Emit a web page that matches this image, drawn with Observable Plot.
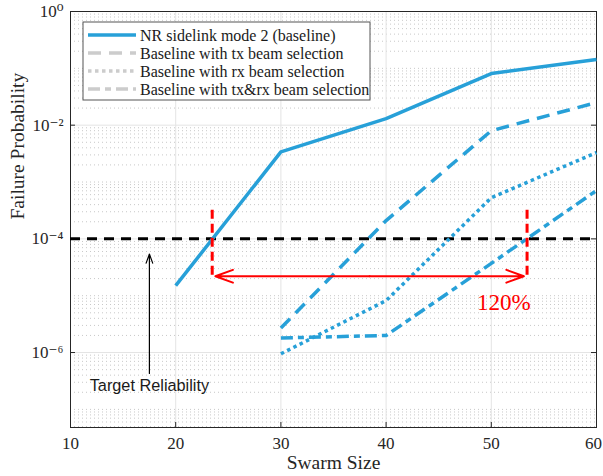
<!DOCTYPE html>
<html><head><meta charset="utf-8">
<script src="https://cdn.jsdelivr.net/npm/d3@7"></script>
<script src="https://cdn.jsdelivr.net/npm/@observablehq/plot@0.6"></script>
<style>
body{margin:0;background:#fff}
#chart{width:603px;height:476px}
</style>
</head><body><div id="chart"></div>
<script>
// ---- data ----
const xBaseline = [20, 30, 40, 50, 60];
const nrBaseline = [1.5e-5, 3.4e-3, 1.3e-2, 8.1e-2, 1.43e-1];
const xBeam = [30, 40, 50, 60];
const txSel = [2.7e-6, 2.1e-4, 8.0e-3, 2.5e-2];
const rxSel = [9.5e-7, 8.2e-6, 5.3e-4, 3.3e-3];
const txrxSel = [1.8e-6, 2.0e-6, 3.7e-5, 7.1e-4];
const seriesNames = ["NR sidelink mode 2 (baseline)", "Baseline with tx beam selection", "Baseline with rx beam selection", "Baseline with tx&rx beam selection"];
const targetReliability = 1e-4;
const gainStart = 23.47, gainEnd = 53.4;    // swarm sizes where target is met
const gainLabel = "120%";
const gainTop = 3.2e-4, gainBottom = 2.2e-5;
const xTicks = [10, 20, 30, 40, 50, 60];
const yTicks = [1, 1e-2, 1e-4, 1e-6];
const yTickLabels = ["10⁰", "10⁻²", "10⁻⁴", "10⁻⁶"];
const xLabel = "Swarm Size", yLabel = "Failure Probability";

// ---- styles ----
const blue = "#27a0d8";
const dashes = [null, "13,8", "3.5,3.5", "12,5,6,5"];
const W = 603, H = 476, mL = 70, mR = 7, mT = 11, mB = 49;
const plotW = W - mL - mR, plotH = H - mT - mB;
const serif = "'Liberation Serif', 'DejaVu Serif', serif";

const mk = (xs, ys) => xs.map((x, i) => ({x, y: ys[i]}));
const series = [mk(xBaseline, nrBaseline), mk(xBeam, txSel), mk(xBeam, rxSel), mk(xBeam, txrxSel)];

// minor grid lines for log axis
const minorY = [];
for (let k = -8; k <= 0; k++) for (let m = 1; m <= 9; m++) {
  const v = m * Math.pow(10, k);
  if (v > 4.8e-8 && v < 1 && !yTicks.some(t => Math.abs(t - v) / t < 1e-9)) minorY.push(v);
}

const chart = Plot.plot({
  width: W, height: H,
  marginLeft: mL, marginRight: mR, marginTop: mT, marginBottom: mB,
  style: {fontFamily: serif, fontSize: "17px", color: "#262626", background: "#fff"},
  x: {domain: [10, 60]},
  y: {type: "log", domain: [4.8e-8, 1]},
  marks: [
    Plot.ruleY(minorY, {stroke: "#c8c8c8", strokeDasharray: "1,3", strokeWidth: 1}),
    Plot.ruleY(yTicks.slice(1), {stroke: "#e4e4e4", strokeWidth: 1}),
    Plot.ruleX(xTicks.slice(1, -1), {stroke: "#e4e4e4", strokeWidth: 1}),
    Plot.axisX({ticks: xTicks.slice(0, -1), tickSize: 0, tickPadding: 9, label: null, fontSize: 17}),
    Plot.axisX({ticks: xTicks.slice(-1), tickSize: 0, tickPadding: 9, label: null, fontSize: 17, dx: -3}),
    Plot.axisY({ticks: yTicks, tickSize: 0, tickPadding: 7, tickFormat: (d) => yTickLabels[yTicks.indexOf(d)], label: null, fontSize: 17}),
    Plot.tickX(xTicks, {x: d => d, insetTop: plotH - 5, stroke: "#262626"}),
    Plot.tickY(yTicks, {y: d => d, insetRight: plotW - 5, stroke: "#262626"}),
    Plot.tickY(yTicks, {y: d => d, insetLeft: plotW - 5, stroke: "#262626"}),
    Plot.frame({stroke: "#262626"}),
    // target reliability line
    Plot.ruleY([targetReliability], {stroke: "#000", strokeWidth: 3, strokeDasharray: "10,7"}),
    // series
    ...series.map((d, i) => Plot.line(d, {x: "x", y: "y", stroke: blue, strokeWidth: 3.5, strokeDasharray: dashes[i], strokeLinecap: "butt"})),
    // gain markers
    Plot.ruleX([gainStart, gainEnd], {y1: gainTop, y2: gainBottom, stroke: "#ff0000", strokeWidth: 3, strokeDasharray: "9,5"}),
    Plot.arrow([0], {x1: (gainStart + gainEnd) / 2, x2: gainStart + 0.3, y1: gainBottom, y2: gainBottom, stroke: "#ff0000", strokeWidth: 2, headLength: 14, headAngle: 40}),
    Plot.arrow([0], {x1: (gainStart + gainEnd) / 2, x2: gainEnd - 0.3, y1: gainBottom, y2: gainBottom, stroke: "#ff0000", strokeWidth: 2, headLength: 14, headAngle: 40}),
    Plot.text([gainLabel], {x: 51.2, y: 7.5e-6, text: d => d, fill: "#ff0000", fontSize: 23, fontFamily: serif}),
    // target annotation
    Plot.arrow([0], {x1: 17.5, x2: 17.5, y1: 4.3e-7, y2: 5.4e-5, stroke: "#000", strokeWidth: 1.2, headLength: 12, headAngle: 40}),
    Plot.text(["Target Reliability"], {x: 17.5, y: 2.6e-7, text: d => d, fill: "#1a1a1a", fontSize: 16.3, fontFamily: "'Liberation Sans', Arial, sans-serif"}),
    // axis labels
    Plot.text([xLabel], {frameAnchor: "bottom", dy: 41, text: d => d, fontSize: 19.5, fill: "#262626"}),
    Plot.text([yLabel], {frameAnchor: "left", dx: -53, rotate: -90, text: d => d, fontSize: 19.5, fill: "#262626"})
  ]
});
document.getElementById("chart").append(chart);

// ---- legend (inside axes, top-left) ----
const svg = d3.select(chart);
const lg = svg.append("g").attr("transform", "translate(83,22)");
lg.append("rect").attr("width", 287).attr("height", 78).attr("fill", "#fff").attr("stroke", "#555").attr("stroke-width", 1);
const legendColors = [blue, "#cccccc", "#cccccc", "#cccccc"];
seriesNames.forEach((name, i) => {
  const yy = 13 + i * 18;
  lg.append("line").attr("x1", 5).attr("x2", 53).attr("y1", yy).attr("y2", yy)
    .attr("stroke", legendColors[i]).attr("stroke-width", 3.5).attr("stroke-dasharray", dashes[i]);
  lg.append("text").attr("x", 57).attr("y", yy).attr("dy", "0.35em").attr("text-anchor", "start")
    .attr("font-family", serif).attr("font-size", 16).attr("fill", "#1a1a1a").text(name);
});
</script></body></html>
